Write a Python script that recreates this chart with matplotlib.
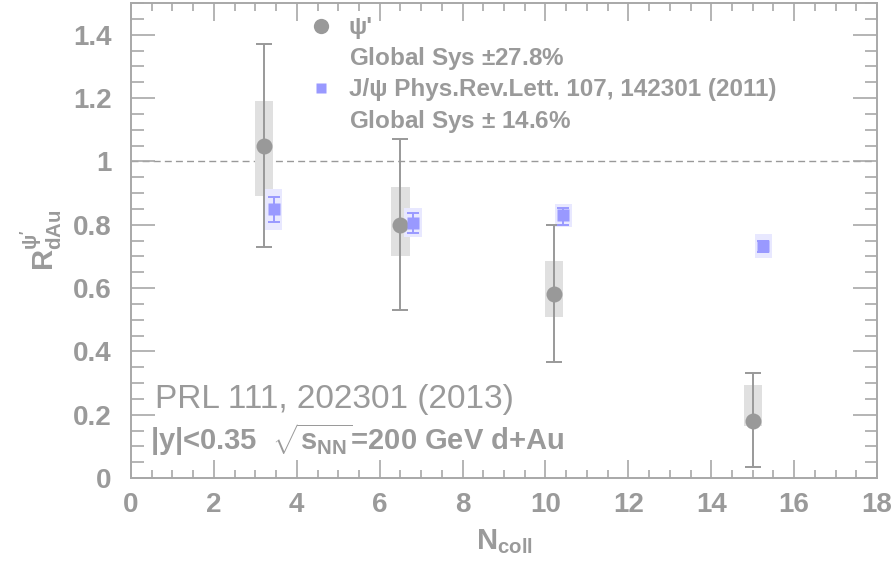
import matplotlib
matplotlib.use("Agg")
import matplotlib.pyplot as plt
from matplotlib.lines import Line2D
from matplotlib.ticker import MultipleLocator
import numpy as np

plt.rcParams['font.family'] = ['Liberation Sans', 'DejaVu Sans']
plt.rcParams['mathtext.fontset'] = 'custom'
plt.rcParams['mathtext.rm'] = 'Liberation Sans:bold'
plt.rcParams['mathtext.bf'] = 'Liberation Sans:bold'
plt.rcParams['mathtext.it'] = 'Liberation Sans:bold'
plt.rcParams['mathtext.sf'] = 'Liberation Sans:bold'
plt.rcParams['mathtext.default'] = 'bf'

# ---- data ----
psi_x = [3.2, 6.5, 10.2, 15.0]
psi_y = [1.05, 0.80, 0.58, 0.18]
psi_stat_lo = [0.73, 0.53, 0.365, 0.034]
psi_stat_hi = [1.37, 1.07, 0.80, 0.333]
psi_sys_lo = [0.89, 0.70, 0.51, 0.165]
psi_sys_hi = [1.19, 0.92, 0.684, 0.294]

jpsi_x = [3.44, 6.8, 10.43, 15.26]
jpsi_y = [0.85, 0.805, 0.83, 0.733]
jpsi_stat_lo = [0.808, 0.774, 0.80, 0.715]
jpsi_stat_hi = [0.886, 0.838, 0.853, 0.75]
jpsi_sys_lo = [0.782, 0.761, 0.793, 0.695]
jpsi_sys_hi = [0.913, 0.852, 0.866, 0.772]

legend_labels = ["\u03c8'", "Global Sys $\\pm$27.8%",
                 "J/\u03c8 Phys.Rev.Lett. 107, 142301 (2011)",
                 "Global Sys $\\pm$ 14.6%"]
x_ticks = [0, 2, 4, 6, 8, 10, 12, 14, 16, 18]
y_ticks = [0, 0.2, 0.4, 0.6, 0.8, 1.0, 1.2, 1.4]
y_ticklabels = ["0", "0.2", "0.4", "0.6", "0.8", "1", "1.2", "1.4"]

GRAY = '#999999'
TXT = '#9a9a9a'
JCOL = '#9999ff'

fig = plt.figure(figsize=(8.93, 5.69), dpi=100)
ax = fig.add_axes([131/893, 1-478/569, 746/893, 475/569])
ax.set_xlim(0, 18)
ax.set_ylim(0, 1.5)

# unity line
ax.axhline(1.0, color='#999999', lw=1.0, ls=(0, (5, 3)), zorder=1)

# systematic boxes
psi_x_a = np.array(psi_x); jx = np.array(jpsi_x)
ax.bar(psi_x_a, np.array(psi_sys_hi) - np.array(psi_sys_lo), bottom=psi_sys_lo,
       width=0.44, color='#e0e0e0', edgecolor='none', zorder=2)
ax.bar(jx, np.array(jpsi_sys_hi) - np.array(jpsi_sys_lo), bottom=jpsi_sys_lo,
       width=0.42, color='#e8e8ff', edgecolor='none', zorder=2)

# stat errors
py = np.array(psi_y)
ax.errorbar(psi_x_a, py, yerr=[py - np.array(psi_stat_lo), np.array(psi_stat_hi) - py],
            fmt='o', color=GRAY, ms=11.5, elinewidth=1.4, capsize=5.5, capthick=1.4,
            mec='none', zorder=3)
jy = np.array(jpsi_y)
ax.errorbar(jx, jy, yerr=[jy - np.array(jpsi_stat_lo), np.array(jpsi_stat_hi) - jy],
            fmt='s', color=JCOL, ms=8, elinewidth=1.4, capsize=4.5, capthick=1.4,
            mec='none', zorder=4)

# axes style
for s in ax.spines.values():
    s.set_color('#a8a8a8')
    s.set_linewidth(1.4)
ax.set_xticks(x_ticks)
ax.set_yticks(y_ticks)
ax.set_yticklabels(y_ticklabels)
ax.xaxis.set_minor_locator(MultipleLocator(0.5))
ax.yaxis.set_minor_locator(MultipleLocator(0.05))
ax.tick_params(axis='both', which='both', direction='in', top=True, right=True,
               colors='#a8a8a8', labelcolor=TXT, width=1.2)
ax.tick_params(axis='y', which='major', length=17, pad=14, labelsize=20)
ax.tick_params(axis='y', which='minor', length=9)
ax.tick_params(axis='x', which='major', length=13, pad=10, labelsize=20)
ax.tick_params(axis='x', which='minor', length=6)
for lab in ax.get_xticklabels() + ax.get_yticklabels():
    lab.set_fontweight('bold')

ax.set_xlabel(r'N$_{\mathbf{coll}}$', fontsize=21, color=TXT, fontweight='bold', labelpad=7)
ax.set_ylabel(r"R$^{\psi'}_{\mathbf{dAu}}$", fontsize=21, color=TXT, fontweight='bold', labelpad=6)

# legend
blank = Line2D([], [], linestyle='none', marker=None)
h_psi = Line2D([], [], linestyle='none', marker='o', color=GRAY, ms=11, mec='none')
h_j = Line2D([], [], linestyle='none', marker='s', color=JCOL, ms=7.5, mec='none')
leg = ax.legend([h_psi, blank, h_j, blank], legend_labels,
                loc='upper left', bbox_to_anchor=(0.239, 0.972), frameon=False,
                prop={'weight': 'bold', 'size': 17.5}, labelcolor=TXT,
                handlelength=1.0, handletextpad=0.62, labelspacing=0.25,
                borderaxespad=0, borderpad=0)

# annotations
ax.text(0.032, 0.148, 'PRL 111, 202301 (2013)', transform=ax.transAxes,
        fontsize=24, color=TXT, fontweight='normal', va='baseline')
ax.text(0.026, 0.059, r'$|$y$|$<0.35  $\sqrt{\mathbf{s}_{\mathbf{NN}}}$=200 GeV d+Au',
        transform=ax.transAxes, fontsize=21, color=TXT, fontweight='bold', va='baseline')

fig.savefig('out.png', dpi=100)
